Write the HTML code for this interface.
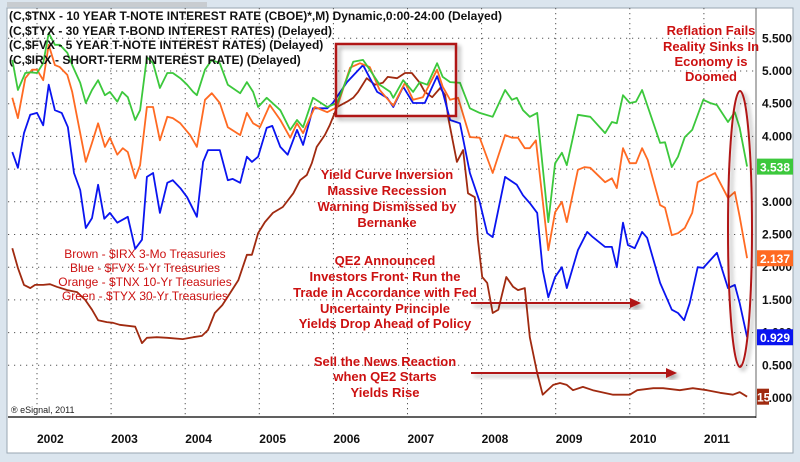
<!DOCTYPE html>
<html><head><meta charset="utf-8">
<style>
html,body{margin:0;padding:0;background:#dbe5ee;}
body{width:800px;height:462px;position:relative;overflow:hidden;font-family:"Liberation Sans",Arial,sans-serif;}
svg{position:absolute;left:0;top:0;}
</style></head>
<body>
<svg id="chart" width="800" height="462" viewBox="0 0 800 462" xmlns="http://www.w3.org/2000/svg">
  <defs>
    <filter id="sh" x="-20%" y="-20%" width="140%" height="140%"><feGaussianBlur in="SourceAlpha" stdDeviation="2"/><feOffset dx="3" dy="3"/><feComponentTransfer><feFuncA type="linear" slope="0.35"/></feComponentTransfer><feMerge><feMergeNode/><feMergeNode in="SourceGraphic"/></feMerge></filter>
  </defs>
  <rect x="0" y="0" width="800" height="462" fill="#dbe5ee"/>
  <rect x="7" y="8" width="786" height="445" fill="#ffffff" stroke="#9aa6b2" stroke-width="1"/>
  <rect x="7" y="2" width="200" height="5" fill="#c8ccd0"/>
  <g id="grid"></g>
  <line x1="756" y1="8" x2="756" y2="418" stroke="#666" stroke-width="1"/>
  <line x1="8" y1="417" x2="756" y2="417" stroke="#000" stroke-width="1.2"/>
  <g id="series"></g>
  <g id="axes"></g>

  <g font-size="12" font-weight="bold" fill="#111">
    <text x="9" y="20">(C,$TNX - 10 YEAR T-NOTE INTEREST RATE (CBOE)*,M) Dynamic,0:00-24:00 (Delayed)</text>
    <text x="9" y="35">(C,$TYX - 30 YEAR T-BOND INTEREST RATES)  (Delayed)</text>
    <text x="9" y="49">(C,$FVX - 5 YEAR T-NOTE INTEREST RATES)  (Delayed)</text>
    <text x="9" y="64">(C,$IRX - SHORT-TERM INTEREST RATE)  (Delayed)</text>
  </g>

  <rect x="336" y="44" width="120" height="72" fill="none" stroke="#b01818" stroke-width="2.5" filter="url(#sh)"/>
  <ellipse cx="740" cy="229" rx="12" ry="138" fill="none" stroke="#b01818" stroke-width="2" filter="url(#sh)"/>
  <line x1="642" y1="68" x2="642" y2="320" stroke="#cc1111" stroke-width="1.5" stroke-dasharray="6,2,1.5,2" filter="url(#sh)"/>
  <line x1="683" y1="88" x2="683" y2="392" stroke="#cc1111" stroke-width="1.5" stroke-dasharray="6,2,1.5,2" filter="url(#sh)"/>
  <g filter="url(#sh)">
    <line x1="471" y1="303" x2="632" y2="303" stroke="#b01818" stroke-width="2"/>
    <polygon points="641,303 630,298 630,308" fill="#b01818"/>
  </g>
  <g filter="url(#sh)">
    <line x1="471" y1="373" x2="668" y2="373" stroke="#b01818" stroke-width="2"/>
    <polygon points="677,373 666,368 666,378" fill="#b01818"/>
  </g>

  <g font-size="12" fill="#cc1111" text-anchor="middle">
    <text x="145" y="258">Brown - $IRX  3-Mo Treasuries</text>
    <text x="145" y="272">Blue - $FVX 5-Yr Treasuries</text>
    <text x="145" y="286">Orange - $TNX 10-Yr Treasuries</text>
    <text x="145" y="300">Green - $TYX 30-Yr Treasuries</text>
  </g>
  <g font-size="13" font-weight="bold" fill="#cc1111" text-anchor="middle">
    <text x="387"><tspan x="387" y="179">Yield Curve Inversion</tspan><tspan x="387" y="195">Massive Recession</tspan><tspan x="387" y="211">Warning Dismissed by</tspan><tspan x="387" y="227">Bernanke</tspan></text>
    <text x="385"><tspan x="385" y="265">QE2 Announced</tspan><tspan x="385" y="281">Investors Front- Run the</tspan><tspan x="385" y="297">Trade in Accordance with Fed</tspan><tspan x="385" y="313">Uncertainty Principle</tspan><tspan x="385" y="328">Yields Drop Ahead of Policy</tspan></text>
    <text x="385"><tspan x="385" y="366">Sell the News Reaction</tspan><tspan x="385" y="381">when QE2 Starts</tspan><tspan x="385" y="397">Yields Rise</tspan></text>
    <text x="711"><tspan x="711" y="35">Reflation Fails</tspan><tspan x="711" y="51">Reality Sinks In</tspan><tspan x="711" y="66">Economy is</tspan><tspan x="711" y="81">Doomed</tspan></text>
  </g>
  <text x="11" y="413" font-size="9" fill="#222">® eSignal, 2011</text>
</svg>
<script>
// Time axis: months since Jan 2002. Value axis: percent.
const yearLabels = ["2002","2003","2004","2005","2006","2007","2008","2009","2010","2011"];
const yTickValues = [0,0.5,1,1.5,2,2.5,3,3.5,4,4.5,5,5.5];
const yTickLabels = ["0.000","0.500","1.000","1.500","2.000","2.500","3.000","3.500","4.000","4.500","5.000","5.500"];

const tyxMonths = [-4,-3.1,-1.9,-1.1,0,1,1.9,2.9,3.7,4.9,5.7,7,7.9,8.9,9.9,11,11.8,13,13.8,14.7,15.9,16.7,17.8,18.8,19.9,21.1,22,23.2,24.3,25.3,25.9,27.2,28.3,29.6,30.9,32.9,34,35,35.8,37.2,39.4,41,42.1,43.1,44.7,47,48.6,50.2,51.2,52.8,53.9,55.5,57.2,57.7,59.3,60.9,62,63.2,64.8,65.7,66.9,68.5,70.1,71.7,73.8,75.8,76.9,77.7,78.7,79.8,81,82.8,83.9,85,85.8,87.6,89.6,92,93.1,93.9,94.9,96,97,98,100.9,101.7,102.8,103.8,104.9,106.1,107.9,109,110.1,111.9,113,113.8,115];
const tyxValues = [5.17,4.71,4.97,4.98,4.97,5.12,5.58,5.40,5.40,5.28,5.09,4.82,4.51,4.71,4.86,4.63,4.68,4.53,4.68,4.60,4.25,4.40,5.21,5.12,4.74,4.97,4.97,4.89,4.79,4.68,4.63,5.02,5.17,5.12,4.79,4.66,4.83,4.68,4.45,4.59,4.40,4.10,4.25,4.14,4.59,4.45,4.51,4.89,5.14,5.17,5.02,4.79,4.68,4.59,4.86,4.68,4.83,4.79,5.12,4.91,4.83,4.82,4.43,4.36,4.30,4.71,4.56,4.59,4.40,4.30,4.36,2.69,3.59,3.75,3.56,4.33,4.30,4.05,4.22,4.20,4.63,4.51,4.53,4.71,3.90,3.91,3.53,3.69,3.99,4.10,4.56,4.51,4.48,4.22,4.37,4.13,3.538];

const tnxMonths = [-4,-3.1,-1.9,-0.8,0,1,1.9,2.9,3.7,4.9,5.7,7,7.9,8.9,9.9,11,11.8,13,13.9,14.7,15.9,16.7,17.8,18.8,19.9,21.1,22,23.2,24.8,25.9,27.2,28.3,29.6,30.9,32.9,34,35,36.1,37.7,39.4,41,42.1,43.1,45,47,48.6,50.7,52.3,53.9,55.5,57.7,59.6,60.9,62.5,64.8,65.7,66.9,68.2,70.1,71.7,73.8,75.8,76.9,77.9,79,79.8,80.8,82.8,83.9,85,85.8,87.6,88.7,89.6,92,93.1,93.9,94.9,96,97,98,98.9,100.9,101.7,102.8,103.8,104.9,106.1,107,109.8,111.9,113,113.8,115];
const tnxValues = [4.59,4.28,4.89,5.02,5.02,4.86,5.40,5.09,5.06,4.94,4.68,4.05,3.61,3.90,4.20,3.84,3.98,3.72,3.82,3.76,3.36,3.56,4.45,4.45,3.94,4.30,4.28,4.20,4.02,3.84,4.56,4.66,4.51,4.14,4.02,4.36,4.20,4.14,4.48,4.25,3.98,4.20,4.05,4.45,4.37,4.45,5.05,5.12,5.06,4.71,4.47,4.82,4.56,4.60,5.02,4.76,4.56,4.59,3.99,3.98,3.44,4.02,3.98,3.98,3.82,3.82,3.94,2.26,2.84,3.00,2.69,3.49,3.53,3.52,3.30,3.36,3.21,3.82,3.59,3.59,3.82,3.64,2.95,2.91,2.49,2.52,2.60,2.83,3.30,3.44,3.06,3.15,2.77,2.137];

const fvxMonths = [-4,-3.1,-2.1,-1.1,0,1,1.9,2.9,4,5,6,7,7.9,8.9,9.9,10.9,11.8,13,14.7,15.9,17,17.8,18.8,19.9,21.1,22,23.2,24.3,25.9,26.9,27.7,29.6,30.9,31.7,32.9,34,34.8,35.8,37.2,38.1,39.4,40.6,42.1,43.1,44.7,47,47.9,50.2,52.8,55.1,56.7,57.7,59.3,60.9,62.8,64.8,65.7,66.9,68.5,70.1,71.7,72.9,73.8,75.8,77.7,78.7,79.8,81,81.9,82.8,83.9,85,85.8,87.6,89.1,90,92,93.1,93.9,94.9,95.7,96.8,98,98.8,100.9,102.8,103.8,104.8,105.7,107,107.9,110.1,111.9,113,113.8,115];
const fvxValues = [3.76,3.52,4.05,4.33,4.36,4.17,4.79,4.40,4.36,4.14,3.44,3.18,2.60,2.75,3.26,2.74,2.83,2.68,2.77,2.28,2.42,3.38,3.44,2.83,3.29,3.33,3.21,3.07,2.77,3.61,3.79,3.79,3.33,3.35,3.29,3.69,3.61,3.69,4.13,4.16,3.84,3.72,4.10,3.87,4.43,4.43,4.51,4.83,5.09,4.68,4.59,4.45,4.76,4.51,4.51,4.92,4.68,4.25,4.20,3.44,3.00,2.52,2.46,3.38,3.26,3.10,2.98,2.83,1.96,1.54,1.85,2.00,1.68,2.26,2.54,2.46,2.31,2.31,2.00,2.68,2.34,2.29,2.54,2.45,1.76,1.35,1.30,1.19,1.45,2.00,1.99,2.22,1.68,1.73,1.45,0.929];

const irxMonths = [-4,-3.1,-2.1,-1.1,-0.3,1,2.1,3.2,4.9,6.5,7.8,8.9,9.9,11.3,12.3,13.4,15.9,17,17.8,19.4,21.1,23.6,25.3,26.7,27.7,28.8,30,31.3,32.6,34,34.8,35.8,36.9,38.2,39.8,41.5,42.6,43.7,44.5,45.3,46.6,47.4,48.6,50.2,51.2,52,53.4,54.7,56,56.8,58.3,59.6,60.7,62,62.8,64,65.3,66.1,66.6,67.2,68,69,69.8,70.9,71.4,72.1,72.9,73.8,74.7,76,77.1,77.9,79,79.8,81,81.9,83.6,84.7,85.8,86.8,88.4,90,93.3,96,97.2,99.8,101.4,104.1,106.2,108.5,110.6,112.7,113.8,115];
const irxValues = [2.29,1.99,1.73,1.68,1.73,1.73,1.74,1.70,1.65,1.62,1.50,1.35,1.19,1.16,1.15,1.12,1.09,0.84,0.92,0.93,0.92,0.90,0.93,0.95,1.04,1.30,1.42,1.61,1.80,2.19,2.19,2.52,2.69,2.83,2.92,3.13,3.33,3.41,3.59,3.84,4.02,4.17,4.45,4.53,4.59,4.68,4.89,4.79,4.82,4.91,4.89,4.97,4.97,4.82,4.68,4.60,4.74,4.63,4.28,3.99,3.61,3.79,3.13,3.07,2.42,1.85,1.76,1.30,1.35,1.85,1.70,1.65,1.68,0.93,0.38,0.05,0.20,0.23,0.20,0.12,0.17,0.12,0.05,0.05,0.12,0.15,0.15,0.12,0.15,0.12,0.08,0.05,0.09,0.02];

const NS = "http://www.w3.org/2000/svg";
const X0 = 37, MONTH = 6.175;
const Y0 = 398, UNIT = 65.4;
function xScale(m){ return X0 + m*MONTH; }
function yScale(v){ return Y0 - v*UNIT; }
function mk(tag, attrs, parent){ const e=document.createElementNS(NS,tag); for(const k in attrs) e.setAttribute(k,attrs[k]); parent.appendChild(e); return e; }

const grid = document.getElementById('grid');
const axes = document.getElementById('axes');
yTickValues.forEach((v,i)=>{
  if(v>0){
    const gl = mk('line',{x1:8,x2:756,y1:yScale(v),y2:yScale(v),stroke:'#555','stroke-width':1,'stroke-dasharray':'1.2,4.8'},grid);
    
    
  }
  const t = mk('text',{x:762,y:yScale(v)+4,'font-size':12,'font-weight':'bold',fill:'#111'},axes);
  t.textContent = yTickLabels[i];
  
  
});
yearLabels.forEach((lab,i)=>{
  const x = xScale(i*12);
  const gl = mk('line',{x1:x,x2:x,y1:8,y2:417,stroke:'#555','stroke-width':1,'stroke-dasharray':'1.2,3.8'},grid);
  
  
  const t = mk('text',{x:x,y:443,'font-size':12,'font-weight':'bold',fill:'#111'},axes);
  t.textContent = lab;
  
  
});

const series = document.getElementById('series');
function drawSeries(months, values, color, name){
  const pts = months.map((m,i)=>xScale(m).toFixed(1)+','+yScale(values[i]).toFixed(1)).join(' ');
  const p = mk('polyline',{points:pts,fill:'none',stroke:color,'stroke-width':1.8,'stroke-linejoin':'round'},series);
  
  
}
drawSeries(irxMonths, irxValues, '#a02a10', 'series-irx-3mo');
drawSeries(fvxMonths, fvxValues, '#0a14f0', 'series-fvx-5yr');
drawSeries(tnxMonths, tnxValues, '#ff6a22', 'series-tnx-10yr');
drawSeries(tyxMonths, tyxValues, '#3cc83c', 'series-tyx-30yr');

function valueBox(v, text, color, name){
  const y = yScale(v);
  const r = mk('rect',{x:757,y:y-8,width:36,height:16,fill:color},axes);
  
  
  const t = mk('text',{x:760,y:y+5,'font-size':12,'font-weight':'bold',fill:'#fff'},axes);
  t.textContent = text;
  
  
}
valueBox(tyxValues[tyxValues.length-1], tyxValues[tyxValues.length-1].toFixed(3), '#3cc83c', 'last-value-tyx');
valueBox(tnxValues[tnxValues.length-1], tnxValues[tnxValues.length-1].toFixed(3), '#ff6a22', 'last-value-tnx');
valueBox(fvxValues[fvxValues.length-1], fvxValues[fvxValues.length-1].toFixed(3), '#0a14f0', 'last-value-fvx');
// IRX small box overlapping 0.000 label
const irxY = yScale(irxValues[irxValues.length-1]);
const ib = mk('rect',{x:757,y:irxY-8,width:12,height:16,fill:'#a02a10'},axes);


const it = mk('text',{x:757,y:irxY+5,'font-size':12,'font-weight':'bold',fill:'#fff'},axes);
it.textContent = '15';


</script>
</body></html>
